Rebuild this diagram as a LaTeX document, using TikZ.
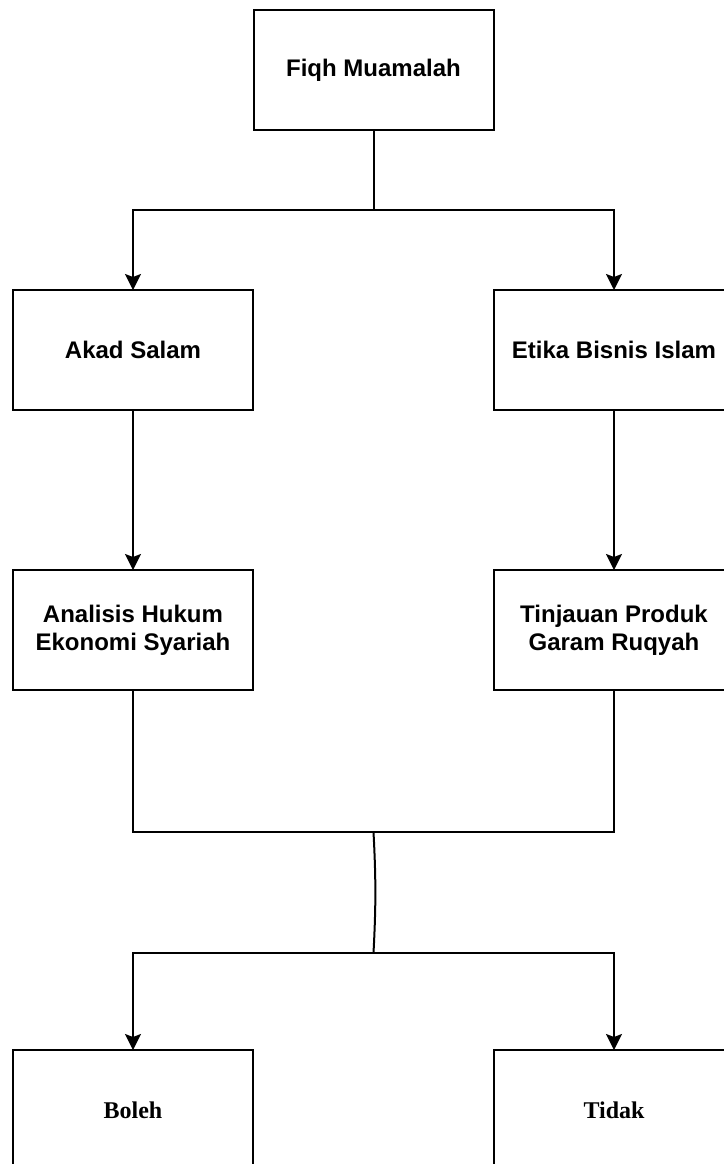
\documentclass[tikz,border=0pt]{standalone}
\usepackage{fontspec}
\setmainfont{Liberation Serif}
\setsansfont{Liberation Sans}
\usetikzlibrary{arrows.meta}
\usetikzlibrary{positioning}

\begin{document}
\begin{tikzpicture}[
    line width=1pt,
    sansbox/.style={draw, minimum width=120pt, minimum height=60pt, inner sep=0pt,
        outer sep=0pt, align=center, font=\sffamily\bfseries\fontsize{12}{14}\selectfont},
    serifbox/.style={sansbox, font=\rmfamily\bfseries\fontsize{12}{14}\selectfont},
    arrow/.style={-{Stealth[length=8pt, width=8pt, inset=1.5pt]}}
  ]
      \useasboundingbox (0,0) rectangle (362pt,-582pt);

      \node[sansbox] (root) at (186.75pt,-35pt) {Fiqh Muamalah};
      \node[sansbox, below=80pt of root, xshift=-120.25pt] (akad) {Akad Salam};
      \node[sansbox, below=80pt of root, xshift=120.25pt] (etika) {Etika Bisnis Islam};
      \node[sansbox, below=80pt of akad] (analisis) {Analisis Hukum\\Ekonomi Syariah};
      \node[sansbox, below=80pt of etika] (tinjauan) {Tinjauan Produk\\Garam Ruqyah};
      \node[serifbox, below=180pt of analisis] (boleh) {Boleh};
      \node[serifbox, below=180pt of tinjauan] (tidak) {Tidak};

      \coordinate[below=40pt of root.south] (fork);
      \coordinate[below=351pt of root.south] (join);
      \coordinate[below=411.5pt of root.south] (fork-low);

      \draw (root.south) -- (fork);
      \draw[arrow] (fork) -| (akad.north);
      \draw[arrow] (fork) -| (etika.north);
      \draw[arrow] (akad.south) -- (analisis.north);
      \draw[arrow] (etika.south) -- (tinjauan.north);

      \draw (analisis.south) |- (join) -| (tinjauan.south);
      \draw (join) to[bend left=3] (fork-low);
      \draw[arrow] (fork-low) -| (boleh.north);
      \draw[arrow] (fork-low) -| (tidak.north);
    \end{tikzpicture}
\end{document}
